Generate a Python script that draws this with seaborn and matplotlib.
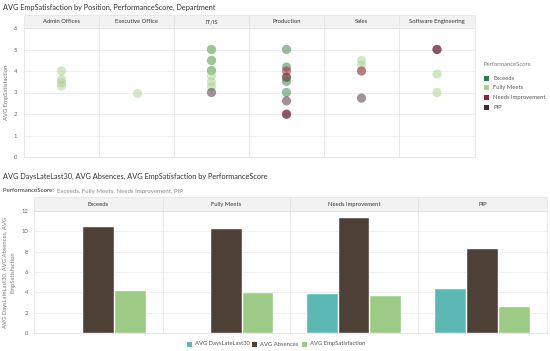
import pandas as pd
import seaborn as sns
import matplotlib.pyplot as plt
from matplotlib.patches import Rectangle

# top chart: one row per point
departments = ['Admin Offices', 'Executive Office', 'IT/IS', 'Production', 'Sales', 'Software Engineering']
pt_dept = (['Admin Offices'] * 4 + ['Executive Office'] +
           ['IT/IS'] * 10 + ['Production'] * 10 + ['Sales'] * 5 + ['Software Engineering'] * 4)
pt_score = (['Fully Meets'] * 4 + ['Fully Meets'] +
            ['Exceeds', 'Fully Meets', 'Exceeds', 'Fully Meets', 'Exceeds', 'Fully Meets',
             'Fully Meets', 'Fully Meets', 'Fully Meets', 'PIP'] +
            ['Exceeds', 'Exceeds', 'Needs Improvement', 'Exceeds', 'Needs Improvement', 'Exceeds',
             'Exceeds', 'PIP', 'Needs Improvement', 'PIP'] +
            ['Fully Meets', 'Fully Meets', 'Fully Meets', 'Needs Improvement', 'PIP'] +
            ['Needs Improvement', 'PIP', 'Fully Meets', 'Fully Meets'])
pt_value = ([4.0, 3.61, 3.46, 3.31] + [3.0] +
            [5.0, 5.0, 4.49, 4.49, 4.02, 4.02, 3.77, 3.49, 3.27, 3.0] +
            [5.0, 4.18, 4.0, 3.71, 3.71, 3.52, 3.0, 2.61, 1.99, 1.99] +
            [4.49, 4.27, 4.0, 4.0, 2.74] +
            [5.0, 5.0, 3.86, 3.0])

scores = ['Exceeds', 'Fully Meets', 'Needs Improvement', 'PIP']
score_colors = ['#2e7d3c', '#a5d38f', '#9b1b3b', '#4b2338']

# bottom chart
metrics = ['AVG DaysLateLast30', 'AVG Absences', 'AVG EmpSatisfaction']
metric_colors = ['#5cb8b2', '#4d4037', '#9ccb86']
days_late = [0.0, 0.0, 3.8, 4.35]
absences = [10.45, 10.2, 11.3, 8.3]
emp_sat = [4.12, 3.98, 3.65, 2.6]

W, H = 550, 351
sns.set_theme(style='white')
plt.rcParams['font.family'] = ['Lato', 'DejaVu Sans']
fig = plt.figure(figsize=(W / 100, H / 100), dpi=100)


def ax_px(x0, y0, x1, y1):
    return fig.add_axes([x0 / W, 1 - y1 / H, (x1 - x0) / W, (y1 - y0) / H])


def txt(x, y, s, **kw):
    fig.text(x / W, 1 - y / H, s, **kw)


def header(x0, x1, y0, y1, label):
    fig.patches.append(Rectangle((x0 / W, 1 - y1 / H), (x1 - x0) / W, (y1 - y0) / H,
                                 transform=fig.transFigure, facecolor='#f2f2f2',
                                 edgecolor='#e2e2e2', linewidth=0.5))
    txt((x0 + x1) / 2, (y0 + y1) / 2, label, ha='center', va='center', fontsize=4.2, color='#333333')


def style_panel(ax, first, pad):
    for sp in ax.spines.values():
        sp.set_color('#e4e4e4')
        sp.set_linewidth(0.6)
    ax.grid(axis='y', color='#ececec', linewidth=0.6)
    ax.set_xticks([])
    ax.set_xlabel('')
    ax.set_ylabel('')
    ax.tick_params(axis='y', length=0, labelsize=4.2, labelcolor='#666666', pad=pad)
    if not first:
        ax.set_yticklabels([])


df = pd.DataFrame({'Department': pt_dept, 'PerformanceScore': pt_score, 'Value': pt_value})
pal = dict(zip(scores, score_colors))

# ---- top chart
txt(3, 7, 'AVG EmpSatisfaction by Position, PerformanceScore, Department',
    fontsize=5.35, color='#333333', va='center')
edges = [24, 99, 174, 249, 324, 399, 475]
for i, d in enumerate(departments):
    ax = ax_px(edges[i], 28, edges[i + 1], 157)
    sub = df[df['Department'] == d]
    sns.scatterplot(data=sub, x=[0] * len(sub), y='Value', hue='PerformanceScore', palette=pal,
                    s=44, alpha=0.5, linewidth=0, legend=False, ax=ax)
    ax.set_xlim(-1, 1)
    ax.set_ylim(0, 6)
    ax.set_yticks(range(7))
    style_panel(ax, i == 0, 5)
    header(edges[i], edges[i + 1], 15, 28, d)
txt(7, 92, 'AVG EmpSatisfaction', rotation=90, fontsize=4.2, color='#777777', ha='center', va='center')

txt(484, 65, 'PerformanceScore', fontsize=4.2, color='#777777', va='center')
for k, (s, c) in enumerate(zip(scores, score_colors)):
    yy = 78 + k * 9.7
    fig.patches.append(Rectangle((484 / W, 1 - (yy + 2.5) / H), 5 / W, 5 / H,
                                 transform=fig.transFigure, facecolor=c, edgecolor='none'))
    txt(493, yy, s, fontsize=4.2, color='#555555', va='center')

# ---- bottom chart
txt(3, 176, 'AVG DaysLateLast30, AVG Absences, AVG EmpSatisfaction by PerformanceScore',
    fontsize=5.35, color='#333333', va='center')
fig.text(3 / W, 1 - 191 / H, 'PerformanceScore: ', fontsize=4.4, color='#333333', va='center')
txt(57, 191, 'Exceeds, Fully Meets, Needs Improvement, PIP', fontsize=4.4, color='#888888', va='center')

bedges = [34, 163, 290, 418, 547]
for i, s in enumerate(scores):
    ax = ax_px(bedges[i], 211, bedges[i + 1], 333)
    bd = pd.DataFrame({'Metric': metrics, 'Value': [days_late[i], absences[i], emp_sat[i]]})
    sns.barplot(data=bd, x='Metric', y='Value', hue='Metric', palette=metric_colors,
                saturation=1, width=0.97, edgecolor='white', linewidth=0.3, legend=False, ax=ax)
    ax.set_xlim(-1.03, 3.03)
    ax.set_ylim(0, 12)
    ax.set_yticks(range(0, 13, 2))
    style_panel(ax, i == 0, 4)
    header(bedges[i], bedges[i + 1], 197, 211, s)
txt(9, 272, 'AVG DaysLateLast30, AVG Absences, AVG\nEmpSatisfaction', rotation=90,
    fontsize=4.2, color='#777777', ha='center', va='center', linespacing=1.6)

lx = [187, 252, 302]
for x, m, c in zip(lx, metrics, metric_colors):
    fig.patches.append(Rectangle((x / W, 1 - 346.5 / H), 5 / W, 5 / H,
                                 transform=fig.transFigure, facecolor=c, edgecolor='none'))
    txt(x + 8, 344, m, fontsize=4.2, color='#555555', va='center')

fig.savefig('out.png', dpi=100)
